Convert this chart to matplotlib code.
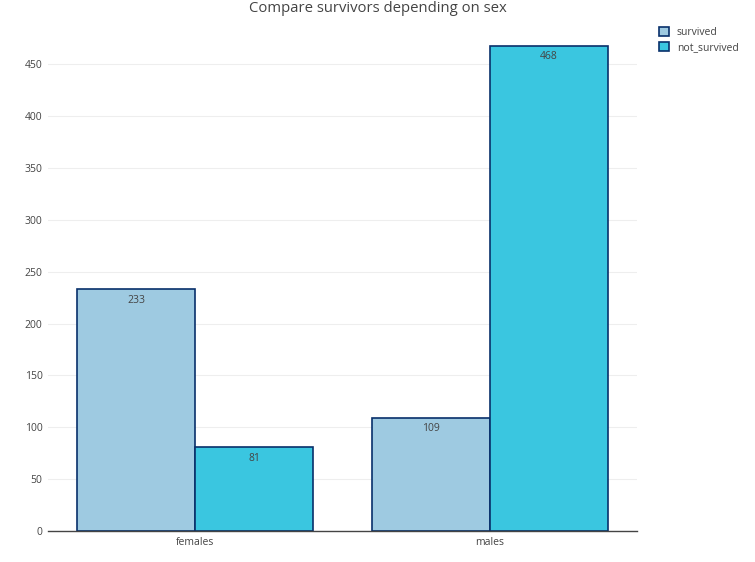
import matplotlib
matplotlib.use("Agg")
import matplotlib.pyplot as plt
import numpy as np

categories = ["females", "males"]
survived = [233, 109]
not_survived = [81, 468]
series_names = ["survived", "not_survived"]
colors = ["#9ecae1", "#3ac6e0"]
edge = "#08306b"
yticks = [0, 50, 100, 150, 200, 250, 300, 350, 400, 450]

plt.rcParams['font.family'] = ['Open Sans', 'DejaVu Sans']

W, H = 755, 562
fig = plt.figure(figsize=(W/100, H/100), dpi=100)
ax = fig.add_axes([48/W, (H-531)/H, (637-48)/W, (531-20)/H])

x = np.arange(len(categories))
bw = 0.4
vals = [survived, not_survived]
for i, (v, c, n) in enumerate(zip(vals, colors, series_names)):
    pos = x - bw/2 + i*bw
    bars = ax.bar(pos, v, width=bw, color=c, edgecolor=edge, linewidth=1.2, label=n, zorder=3)
    for b, val in zip(bars, v):
        ax.annotate(str(val), (b.get_x()+b.get_width()/2, val), xytext=(0, -4),
                    textcoords="offset points", ha="center", va="top",
                    fontsize=7.5, color="#444444", zorder=4)

ax.set_xlim(-0.5, 1.5)
ax.set_ylim(0, 492.6)
ax.set_xticks(x)
ax.set_xticklabels(categories)
ax.set_yticks(yticks)
ax.tick_params(axis='both', length=0, labelsize=7.5, colors="#444444", pad=4)
ax.grid(axis='y', color="#eeeeee", linewidth=0.8, zorder=0)
for s in ['top', 'right', 'left']:
    ax.spines[s].set_visible(False)
ax.spines['bottom'].set_color("#444444")
ax.spines['bottom'].set_linewidth(1)
ax.spines['bottom'].set_zorder(5)

fig.text(378/W, 1-1/H, "Compare survivors depending on sex", ha="center", va="top",
         fontsize=10.7, color="#444444")

leg = fig.legend(loc="upper left", bbox_to_anchor=(655/W, 1-23/H), frameon=False,
                 fontsize=7.5, handlelength=0.9, handleheight=0.9, handletextpad=0.8,
                 labelspacing=0.35, borderaxespad=0)
for t in leg.get_texts():
    t.set_color("#444444")

fig.savefig("out.png", dpi=100)
